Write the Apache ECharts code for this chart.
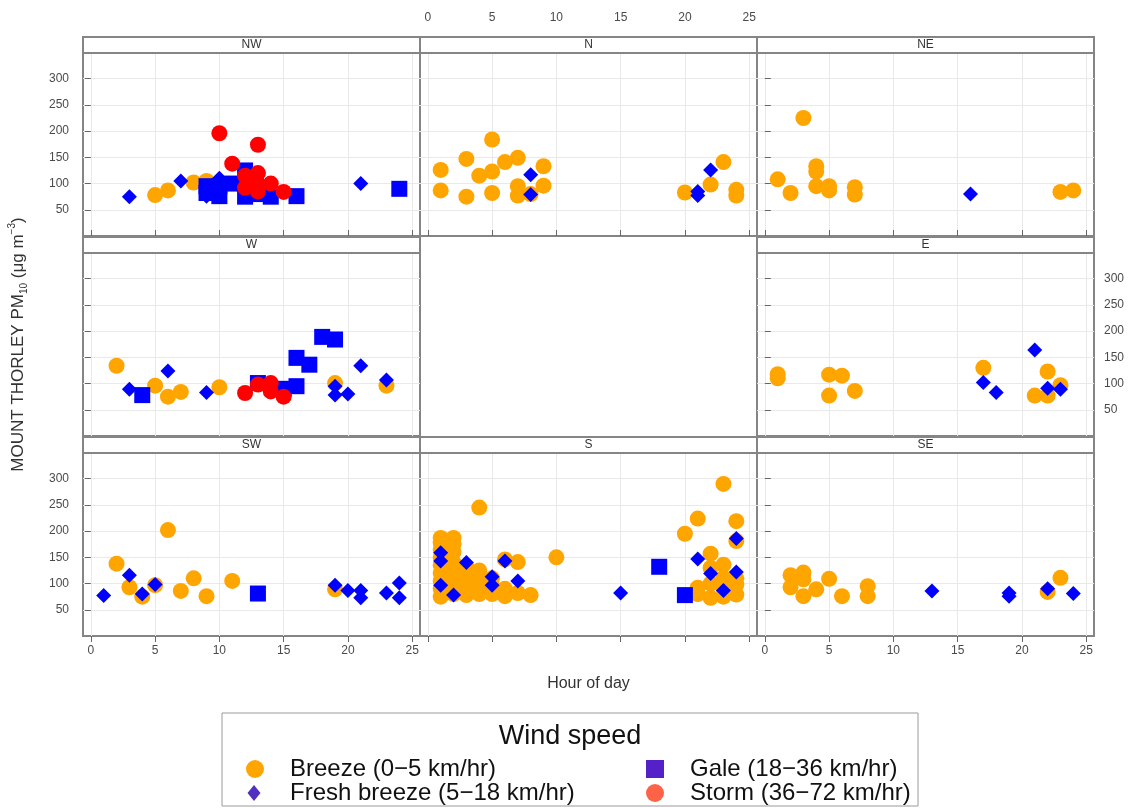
<!DOCTYPE html>
<html>
<head>
<meta charset="utf-8">
<title>Mount Thorley PM10 by wind direction</title>
<script src="https://cdn.jsdelivr.net/npm/echarts@6/dist/echarts.min.js"></script>
<style>
html, body { margin: 0; padding: 0; background: #fff; }
#chart { width: 1132px; height: 808px; }
</style>
</head>
<body>
<div id="chart"></div>
<script>
// wind speed classes (index used in the point arrays below)
const speedNames = ['Breeze (0−5 km/hr)', 'Fresh breeze (5−18 km/hr)', 'Gale (18−36 km/hr)', 'Storm (36−72 km/hr)']
const hourTicks = [0, 5, 10, 15, 20, 25]
const pmTicks = [50, 100, 150, 200, 250, 300]

// [hour of day, PM10, speed class]
const nwPoints = [
  [3, 75, 1], [5, 78, 0], [6, 87, 0], [7, 105, 1], [8, 102, 0], [9, 105, 0],
  [9, 95, 2], [9, 82, 2], [9, 76, 1], [10, 76, 2], [10, 110, 1], [10, 95, 2], [11, 100, 2],
  [12, 125, 2], [12, 75, 2], [13, 80, 2], [14, 75, 2], [16, 76, 2],
  [10, 196, 3], [11, 138, 3], [13, 174, 3], [12, 115, 3], [12, 92, 3], [13, 120, 3],
  [13, 100, 3], [13, 85, 3], [14, 100, 3], [15, 84, 3],
  [21, 100, 1], [24, 90, 2]
]
const nPoints = [
  [1, 126, 0], [1, 87, 0], [3, 147, 0], [3, 75, 0], [4, 115, 0], [5, 184, 0], [5, 123, 0],
  [5, 82, 0], [6, 141, 0], [7, 149, 0], [7, 95, 0], [7, 77, 0], [8, 80, 0], [9, 133, 0],
  [9, 96, 0], [8, 117, 1], [8, 79, 1], [20, 83, 0], [21, 85, 1], [21, 77, 1], [22, 126, 1],
  [22, 98, 0], [23, 141, 0], [24, 88, 0], [24, 77, 0]
]
const nePoints = [
  [1, 108, 0], [2, 82, 0], [3, 225, 0], [4, 133, 0], [4, 123, 0], [4, 95, 0], [5, 95, 0],
  [5, 87, 0], [7, 93, 0], [7, 79, 0], [16, 80, 1], [23, 84, 0], [24, 87, 0]
]
const wPoints = [
  [2, 134, 0], [3, 89, 1], [4, 78, 2], [5, 96, 0], [6, 124, 1], [6, 75, 0], [7, 84, 0],
  [9, 83, 1], [10, 93, 0], [13, 101, 2], [15, 90, 2], [16, 149, 2], [16, 95, 2], [17, 136, 2],
  [18, 189, 2], [19, 184, 2], [12, 82, 3], [13, 98, 3], [14, 101, 3], [14, 85, 3], [15, 75, 3],
  [19, 101, 0], [19, 95, 1], [19, 78, 1], [20, 80, 1], [21, 134, 1], [23, 96, 0], [23, 107, 1]
]
const ePoints = [
  [1, 118, 0], [1, 110, 0], [5, 117, 0], [5, 77, 0], [6, 115, 0], [7, 86, 0], [17, 130, 0],
  [17, 102, 1], [18, 83, 1], [21, 164, 1], [21, 77, 0], [22, 123, 0], [22, 77, 0], [23, 97, 0],
  [22, 91, 1], [23, 89, 1]
]
const swPoints = [
  [1, 77, 1], [2, 138, 0], [3, 116, 1], [3, 93, 0], [4, 75, 0], [4, 80, 1], [5, 97, 0],
  [5, 98, 1], [6, 202, 0], [7, 86, 0], [8, 110, 0], [9, 76, 0], [11, 105, 0], [13, 81, 2],
  [19, 89, 0], [19, 97, 1], [20, 87, 1], [21, 87, 1], [21, 73, 1], [23, 82, 1], [24, 101, 1],
  [24, 73, 1]
]
const sPoints = [
  [1, 75, 0], [1, 90, 0], [1, 105, 0], [1, 120, 0], [1, 135, 0], [1, 150, 0], [1, 165, 0],
  [1, 178, 0], [1, 187, 0], [2, 80, 0], [2, 95, 0], [2, 110, 0], [2, 125, 0], [2, 140, 0],
  [2, 160, 0], [2, 175, 0], [2, 187, 0], [3, 78, 0], [3, 92, 0], [3, 105, 0], [3, 120, 0],
  [3, 132, 0], [4, 80, 0], [4, 95, 0], [4, 110, 0], [4, 125, 0], [4, 245, 0], [5, 80, 0],
  [5, 95, 0], [5, 110, 0], [6, 76, 0], [6, 90, 0], [6, 146, 0], [7, 82, 0], [7, 141, 0],
  [8, 78, 0], [10, 150, 0], [20, 195, 0], [21, 224, 0], [21, 92, 0], [21, 80, 0], [22, 157, 0],
  [22, 73, 0], [22, 100, 0], [22, 130, 0], [23, 290, 0], [23, 136, 0], [23, 111, 0], [23, 90, 0],
  [23, 75, 0], [24, 219, 0], [24, 181, 0], [24, 79, 0], [24, 98, 0], [24, 110, 0],
  [1, 159, 1], [1, 143, 1], [1, 97, 1], [2, 78, 1], [3, 140, 1], [5, 113, 1], [5, 97, 1],
  [6, 143, 1], [7, 105, 1], [15, 82, 1], [21, 147, 1], [22, 119, 1], [23, 87, 1], [24, 186, 1],
  [24, 122, 1], [18, 132, 2], [20, 78, 2]
]
const sePoints = [
  [2, 116, 0], [2, 93, 0], [3, 121, 0], [3, 108, 0], [3, 76, 0], [4, 89, 0], [5, 109, 0],
  [6, 76, 0], [8, 95, 0], [8, 76, 0], [13, 86, 1], [19, 82, 1], [19, 76, 1], [22, 84, 0],
  [22, 90, 1], [23, 111, 0], [24, 81, 1]
]

const panels = [
  { name: 'NW', col: 0, row: 0, points: nwPoints },
  { name: 'N', col: 1, row: 0, points: nPoints },
  { name: 'NE', col: 2, row: 0, points: nePoints },
  { name: 'W', col: 0, row: 1, points: wPoints },
  { name: 'E', col: 2, row: 1, points: ePoints },
  { name: 'SW', col: 0, row: 2, points: swPoints },
  { name: 'S', col: 1, row: 2, points: sPoints },
  { name: 'SE', col: 2, row: 2, points: sePoints }
]

const colLeft = [83, 420, 757]
const rowTop = [53, 253, 453]
const panelW = 337
const panelH = 183
const stripH = 16
const frameColor = '#858585'
const textColor = '#4a4a4a'
const font = '"Liberation Sans", Arial, sans-serif'

const markColor = ['#FFA500', '#0000FF', '#0000FF', '#FF0000']
const markSymbol = ['circle', 'diamond', 'rect', 'circle']
const markSize = [16, 15, 16, 16]
const legendColor = ['#FFA500', '#5030C0', '#5520C8', '#FF6347']

const grids = []
const xAxes = []
const yAxes = []
const series = []
const graphics = []

panels.forEach((p, i) => {
  grids.push({
    left: colLeft[p.col], top: rowTop[p.row], width: panelW, height: panelH,
    show: true, borderColor: frameColor, borderWidth: 2
  })

  const top = p.row === 0
  const bottom = p.row === 2
  const xLabels = p.name === 'N' || (bottom && p.col !== 1)
  xAxes.push({
    type: 'value', gridIndex: i, min: -0.61, max: 25.61,
    position: top ? 'top' : 'bottom', offset: top ? stripH : 0,
    axisLine: { show: false },
    axisTick: { show: true, length: (top || bottom) ? 6 : 0, customValues: hourTicks, lineStyle: { color: '#666' } },
    axisLabel: { show: xLabels, customValues: hourTicks, margin: top ? 13 : 9, color: textColor, fontSize: 12, fontFamily: font },
    splitLine: { show: true, lineStyle: { color: '#e9e9e9', width: 1 } },
    name: p.name === 'S' ? 'Hour of day' : '',
    nameLocation: 'middle', nameGap: 40,
    nameTextStyle: { fontSize: 16, color: '#333', fontFamily: font }
  })

  const yLabels = p.name === 'NW' || p.name === 'SW' || p.name === 'E'
  yAxes.push({
    type: 'value', gridIndex: i, min: 0, max: 349,
    position: p.col === 2 ? 'right' : 'left',
    axisLine: { show: false },
    axisTick: { show: true, length: p.col === 1 ? 0 : 6, customValues: pmTicks, lineStyle: { color: '#666' } },
    axisLabel: { show: yLabels, customValues: pmTicks, margin: p.col === 2 ? 10 : 14, color: textColor, fontSize: 12, fontFamily: font },
    splitLine: { show: true, lineStyle: { color: '#e9e9e9', width: 1 } },
    name: p.name === 'W' ? 'MOUNT THORLEY PM{sub|10} (μg m{sup|−3})' : '',
    nameLocation: 'middle', nameGap: 54, nameRotate: 90,
    nameTextStyle: {
      fontSize: 17, color: '#333', fontFamily: font, lineHeight: 22,
      rich: {
        sub: { fontSize: 10, color: '#333', fontFamily: font, verticalAlign: 'bottom', lineHeight: 14 },
        sup: { fontSize: 10, color: '#333', fontFamily: font, verticalAlign: 'top', lineHeight: 14 }
      }
    }
  })

  speedNames.forEach((name, k) => {
    series.push({
      name: name, type: 'scatter', xAxisIndex: i, yAxisIndex: i,
      symbol: markSymbol[k], symbolSize: markSize[k],
      itemStyle: { color: markColor[k], opacity: 1 },
      z: 2 + k,
      data: p.points.filter(d => d[2] === k).map(d => [d[0], d[1]])
    })
  })

  // strip with the wind direction
  graphics.push({
    type: 'rect', z: 10,
    shape: { x: colLeft[p.col], y: rowTop[p.row] - stripH, width: panelW, height: stripH },
    style: { fill: '#fff', stroke: frameColor, lineWidth: 2 }
  })
  graphics.push({
    type: 'text', z: 11,
    x: colLeft[p.col] + panelW / 2, y: rowTop[p.row] - stripH / 2,
    style: { text: p.name, fill: '#333', font: '12px ' + font, align: 'center', verticalAlign: 'middle' }
  })
})

// legend box and title
graphics.push({
  type: 'rect', z: 1,
  shape: { x: 222, y: 713, width: 696, height: 93 },
  style: { fill: '#fff', stroke: '#9a9a9a', lineWidth: 1 }
})
graphics.push({
  type: 'text', z: 2, x: 570, y: 737,
  style: { text: 'Wind speed', fill: '#111', font: '27px ' + font, align: 'center', verticalAlign: 'middle' }
})

const legendRowY = [768, 792, 768, 792]
const legendIconX = [250, 249, 650, 650]
const legendTextX = [290, 290, 690, 690]
const legendIconW = [18, 13, 18, 18]
const legendIconH = [18, 16, 18, 18]
const legends = speedNames.map((name, k) => ({
  left: legendIconX[k] - legendIconW[k] / 2, top: legendRowY[k] - 16,
  itemWidth: legendIconW[k], itemHeight: legendIconH[k],
  selectedMode: false,
  data: [{ name: name, icon: markSymbol[k], itemStyle: { color: legendColor[k] } }],
  formatter: n => '{g|}' + n,
  textStyle: {
    fontSize: 24, color: '#111', fontFamily: font, lineHeight: 24,
    rich: { g: { width: legendTextX[k] - (legendIconX[k] + legendIconW[k] / 2) - 10, lineHeight: 24 } }
  }
}))

const chart = echarts.init(document.getElementById('chart'))
chart.setOption({
  animation: false,
  backgroundColor: '#fff',
  grid: grids,
  xAxis: xAxes,
  yAxis: yAxes,
  legend: legends,
  graphic: graphics,
  series: series
})
</script>
</body>
</html>
